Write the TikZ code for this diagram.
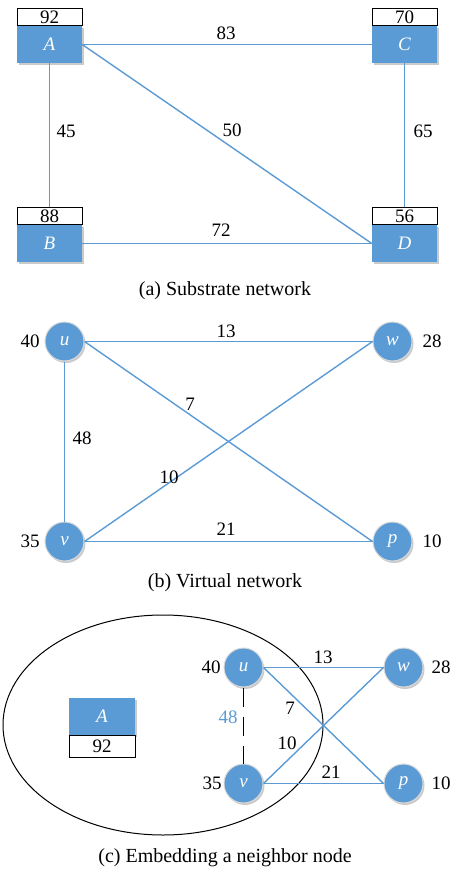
\documentclass[tikz,border=0pt]{standalone}
\usepackage{fontspec}
\setmainfont{Liberation Serif}
\usetikzlibrary{shadows}
\definecolor{myblue}{HTML}{5B9BD5}
\tikzset{
  every node/.style={font=\fontsize{19}{22}\selectfont, inner sep=0pt},
  shad/.style={drop shadow={shadow xshift=1.5pt, shadow yshift=-2pt, opacity=0.35, fill=black!60}},
  bluebox/.style={rectangle, minimum width=65pt, minimum height=37pt, fill=myblue, text=white, font=\fontsize{19}{22}\selectfont\itshape, shad},
  capbox/.style={rectangle, minimum width=65pt, minimum height=17pt, draw=black, line width=0.8pt, fill=white},
  vnode/.style={circle, minimum size=39pt, fill=myblue, draw=black!15, line width=1pt, text=white, font=\fontsize{19}{22}\selectfont\itshape, shad},
  edge/.style={draw=myblue, line width=1.4pt},
  lbl/.style={font=\fontsize{19}{22}\selectfont},
  caption/.style={font=\fontsize{20}{24}\selectfont},
}
\begin{document}
\begin{tikzpicture}[x=1pt,y=-1pt]
\useasboundingbox (0,0) rectangle (457,877);
% (a) substrate network
\node[bluebox] (A) at (49.5,44.5) {A};
\node[capbox] (Acap) at (49.5,17) {92};
\node[bluebox] (C) at (404.5,44.5) {C};
\node[capbox] (Ccap) at (404.5,17) {70};
\node[bluebox] (B) at (49.5,243.5) {B};
\node[capbox] (Bcap) at (49.5,216) {88};
\node[bluebox] (D) at (404.5,243.5) {D};
\node[capbox] (Dcap) at (404.5,216) {56};
\draw[edge] (A.east) -- (C.west);
\draw[edge] (A.south) -- (Bcap.north);
\draw[edge] (C.south) -- (Dcap.north);
\draw[edge] (A.east) -- (D.west);
\draw[edge] (B.east) -- (D.west);
\node[lbl] (l83) at (226,33) {83};
\node[lbl] (l45) at (66,131) {45};
\node[lbl] (l50) at (232,130) {50};
\node[lbl] (l65) at (423,131) {65};
\node[lbl] (l72) at (221,230) {72};
\node[caption] (capa) at (225,291) {(a) Substrate network};
% (b) virtual network
\node[vnode] (u) at (64.5,341.5) {u};
\node[vnode] (w) at (392.5,341.5) {w};
\node[vnode] (v) at (64.5,541.5) {v};
\node[vnode] (p) at (392.5,541.5) {p};
\draw[edge] (u.east) -- (w.west);
\draw[edge] (u.east) -- (p.west);
\draw[edge] (u.south) -- (v.north);
\draw[edge] (v.east) -- (w.west);
\draw[edge] (v.east) -- (p.west);
\node[lbl] (uw) at (30,341) {40};
\node[lbl] (ww) at (432,341) {28};
\node[lbl] (vw) at (30,541) {35};
\node[lbl] (pw) at (432,541) {10};
\node[lbl] (l13) at (226,331) {13};
\node[lbl] (l7) at (190,404) {7};
\node[lbl] (l48) at (82,438) {48};
\node[lbl] (l10) at (169,477) {10};
\node[lbl] (l21) at (226,529) {21};
\node[caption] (capb) at (225,583) {(b) Virtual network};
% (c) embedding
\draw[line width=1pt] (163,725) ellipse [x radius=160pt, y radius=110pt];
\node[bluebox, minimum width=66pt] (cA) at (102,716.5) {A};
\node[capbox, minimum width=66pt, minimum height=22pt] (cAcap) at (102,746.5) {92};
\node[vnode] (cu) at (243.5,667.5) {u};
\node[vnode] (cw) at (403.5,667.5) {w};
\node[vnode] (cv) at (243.5,783.5) {v};
\node[vnode] (cp) at (403.5,783.5) {p};
\draw[edge] (cu.east) -- (cw.west);
\draw[edge] (cu.east) -- (cp.west);
\draw[edge] (cv.east) -- (cw.west);
\draw[edge] (cv.east) -- (cp.west);
\draw[line width=1.2pt, dash pattern=on 19pt off 10pt] (cu.south) -- (cv.north);
\node[lbl] (cuw) at (211,667) {40};
\node[lbl] (cvw) at (212,783) {35};
\node[lbl] (cww) at (441,667) {28};
\node[lbl] (cpw) at (441,783) {10};
\node[lbl, text=myblue] (c48) at (228,717) {48};
\node[lbl] (c13) at (323,657) {13};
\node[lbl] (c7) at (290,708) {7};
\node[lbl] (c10) at (287,743) {10};
\node[lbl] (c21) at (331,772) {21};
\node[caption] (capc) at (225,858) {(c) Embedding a neighbor node};
\end{tikzpicture}
\end{document}
